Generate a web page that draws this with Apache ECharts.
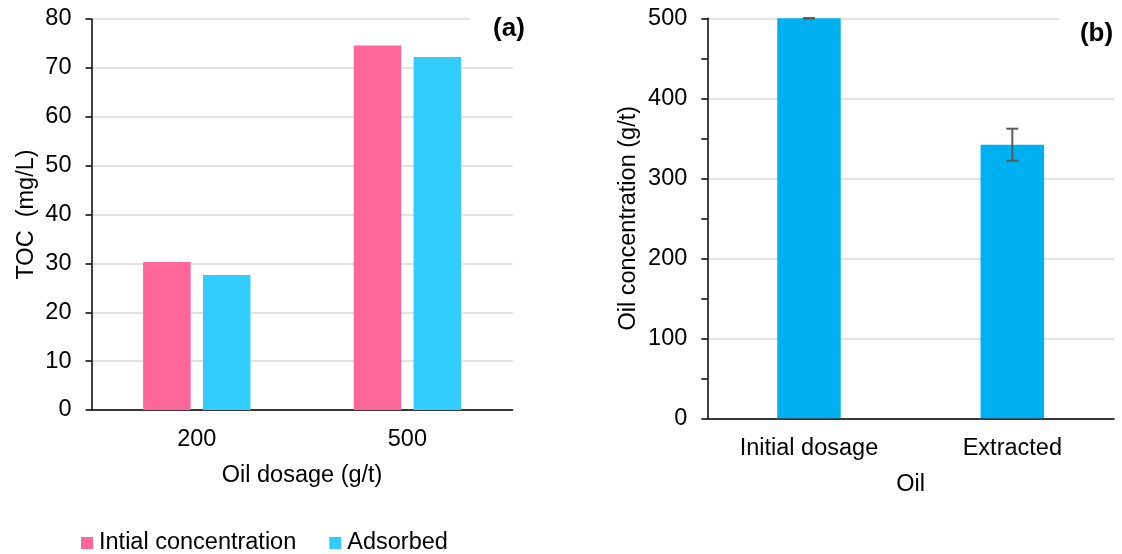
<!DOCTYPE html>
<html>
<head>
<meta charset="utf-8">
<script src="https://cdn.jsdelivr.net/npm/echarts@6/dist/echarts.min.js"></script>
<style>html,body{margin:0;padding:0;background:#fff;}#c{width:1122px;height:554px;}</style>
</head>
<body>
<div id="c"></div>
<script>
const categoriesA = ['200', '500'];
const initialConc = [30.3, 74.6];
const adsorbed = [27.6, 72.2];
const categoriesB = ['Initial dosage', 'Extracted'];
const oilConc = [500, 342];
const oilErr = [0, 20];

const FONT = 'Arial, "Liberation Sans", sans-serif';
const FS = 23.5;
const chart = echarts.init(document.getElementById('c'), null, {renderer: 'canvas'});

const yCommon = {
  type: 'value',
  axisLine: {show: true, lineStyle: {color: '#000', width: 1.5}},
  axisTick: {show: true, length: 6, lineStyle: {color: '#000', width: 1.5}},
  axisLabel: {color: '#000', fontSize: FS, fontFamily: FONT, margin: 20},
  splitLine: {show: true, lineStyle: {color: '#D9D9D9', width: 1.5}},
  nameLocation: 'middle',
  nameRotate: 90,
  nameTextStyle: {color: '#000', fontSize: FS, fontFamily: FONT}
};
const xCommon = {
  type: 'category',
  axisLine: {show: true, lineStyle: {color: '#000', width: 1.5}},
  axisTick: {show: false},
  axisLabel: {color: '#000', fontSize: FS, fontFamily: FONT, margin: 18},
  nameLocation: 'middle',
  nameGap: 54,
  nameTextStyle: {color: '#000', fontSize: FS, fontFamily: FONT}
};

const option = {
  animation: false,
  textStyle: {fontFamily: FONT},
  grid: [
    {left: 91.5, right: 609.3, top: 19, bottom: 144, containLabel: false},
    {left: 707.3, right: 8, top: 18.3, bottom: 135.7, containLabel: false}
  ],
  legend: {
    left: 76, top: 526,
    itemWidth: 12, itemHeight: 12, itemGap: 33,
    icon: 'rect',
    textStyle: {color: '#000', fontSize: FS, fontFamily: FONT, padding: [0, 0, 0, 1]},
    data: ['Intial concentration', 'Adsorbed']
  },
  xAxis: [
    Object.assign({}, xCommon, {gridIndex: 0, data: categoriesA, name: 'Oil dosage (g/t)'}),
    Object.assign({}, xCommon, {gridIndex: 1, data: categoriesB, name: 'Oil'})
  ],
  yAxis: [
    Object.assign({}, yCommon, {gridIndex: 0, min: 0, max: 80, interval: 10, name: 'TOC  (mg/L)', nameGap: 53}),
    Object.assign({}, yCommon, {gridIndex: 1, min: 0, max: 500, interval: 100, name: 'Oil concentration (g/t)', nameGap: 67,
      minorTick: {show: true, splitNumber: 2, length: 6, lineStyle: {color: '#000', width: 1.5}}})
  ],
  series: [
    {name: 'Intial concentration', type: 'bar', xAxisIndex: 0, yAxisIndex: 0, data: initialConc,
      barWidth: 47.5, barGap: '26%', itemStyle: {color: '#FF6699'}},
    {name: 'Adsorbed', type: 'bar', xAxisIndex: 0, yAxisIndex: 0, data: adsorbed,
      barWidth: 47.5, barGap: '26%', itemStyle: {color: '#33CCFF'}},
    {name: 'Oil', type: 'bar', xAxisIndex: 1, yAxisIndex: 1, data: oilConc,
      barWidth: 63.5, itemStyle: {color: '#00B0F0'}},
    {name: 'err', type: 'custom', xAxisIndex: 1, yAxisIndex: 1, z: 10,
      data: oilConc.map((v, i) => [i, v - oilErr[i], v + oilErr[i]]),
      renderItem: function (params, api) {
        const x = api.value(0);
        const lo = api.coord([x, api.value(1)]);
        const hi = api.coord([x, api.value(2)]);
        const hw = 6;
        const st = {stroke: '#595959', lineWidth: 2, fill: null};
        return {type: 'group', children: [
          {type: 'line', shape: {x1: lo[0], y1: lo[1], x2: hi[0], y2: hi[1]}, style: st},
          {type: 'line', shape: {x1: lo[0] - hw, y1: lo[1], x2: lo[0] + hw, y2: lo[1]}, style: st},
          {type: 'line', shape: {x1: hi[0] - hw, y1: hi[1], x2: hi[0] + hw, y2: hi[1]}, style: st}
        ]};
      }
    }
  ],
  graphic: [
    {type: 'rect', z: 100, shape: {x: 470, y: 2, width: 70, height: 46}, style: {fill: '#fff'}},
    {type: 'text', z: 101, x: 509, y: 29, style: {text: '(a)', font: 'bold 26px ' + FONT, fill: '#000', align: 'center', verticalAlign: 'middle'}},
    {type: 'rect', z: 100, shape: {x: 1059, y: 5, width: 63, height: 45}, style: {fill: '#fff'}},
    {type: 'text', z: 101, x: 1096.5, y: 34, style: {text: '(b)', font: 'bold 26px ' + FONT, fill: '#000', align: 'center', verticalAlign: 'middle'}}
  ]
};
chart.setOption(option);
</script>
</body>
</html>
